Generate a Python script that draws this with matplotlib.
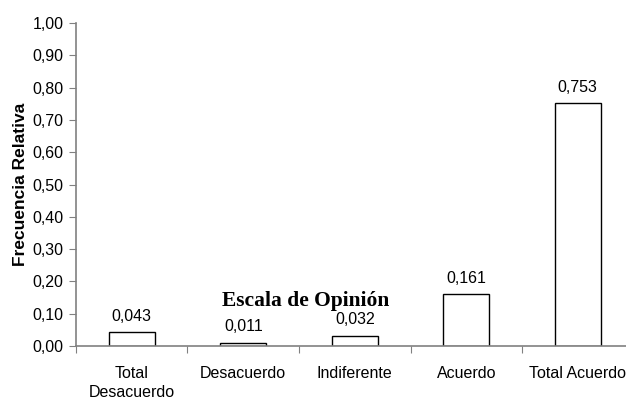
import numpy as np
import matplotlib.pyplot as plt
from matplotlib.ticker import FuncFormatter

categorias = ["Total\nDesacuerdo", "Desacuerdo", "Indiferente", "Acuerdo", "Total Acuerdo"]
frecuencias = [0.043, 0.011, 0.032, 0.161, 0.753]
yticks = [0.0, 0.1, 0.2, 0.3, 0.4, 0.5, 0.6, 0.7, 0.8, 0.9, 1.0]

plt.rcParams["font.family"] = ["Liberation Sans", "DejaVu Sans"]

fig = plt.figure(figsize=(6.26, 4.01), dpi=100)
ax = fig.add_axes([0.1214, 0.137, 0.8906, 0.8055])

x = np.arange(len(categorias))
ax.bar(x, frecuencias, width=0.41, color="white", edgecolor="black", linewidth=1.0)

for xi, v in zip(x, frecuencias):
    ax.annotate(f"{v:.3f}".replace(".", ","), (xi, v), xytext=(0, 6),
                textcoords="offset points", ha="center", va="bottom", fontsize=11.5)

ax.set_xlim(-0.5, len(categorias) - 0.5)
ax.set_ylim(0, 1.0)
ax.set_yticks(yticks)
ax.yaxis.set_major_formatter(FuncFormatter(lambda v, p: f"{v:.2f}".replace(".", ",")))

# separadores entre categorías como ticks mayores, etiquetas en ticks menores
ax.set_xticks(np.arange(-0.5, len(categorias), 1.0))
ax.set_xticklabels([])
ax.set_xticks(x, minor=True)
ax.set_xticklabels(categorias, minor=True, fontsize=11.5, linespacing=1.4)
ax.tick_params(axis="x", which="major", direction="out", length=5, color="#808080")
ax.tick_params(axis="x", which="minor", length=0, pad=14)
ax.tick_params(axis="y", direction="out", length=5, color="#808080", labelsize=11.5, pad=4)

for s in ["top", "right"]:
    ax.spines[s].set_visible(False)
for s in ["left", "bottom"]:
    ax.spines[s].set_color("#808080")
    ax.spines[s].set_linewidth(1.2)

ax.set_ylabel("Frecuencia Relativa", fontsize=12.5, fontweight="bold", labelpad=3)
ax.text(1.56, 0.14, "Escala de Opinión", family=["Liberation Serif"],
        fontsize=15.5, fontweight="bold", ha="center", va="center")

fig.savefig("out.png", dpi=100)
